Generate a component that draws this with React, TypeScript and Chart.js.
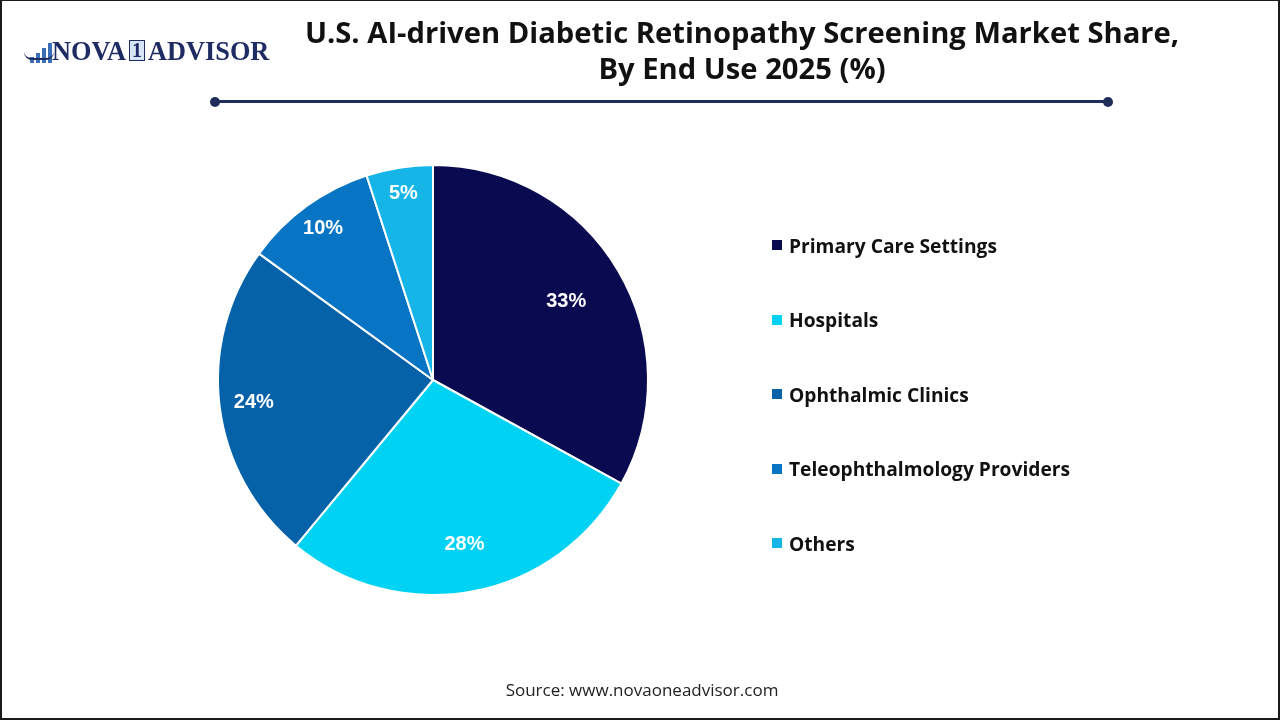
import React, { useEffect, useRef } from "react";
import { Chart, registerables } from "chart.js";

Chart.register(...registerables);

const categories = [
  "Primary Care Settings",
  "Hospitals",
  "Ophthalmic Clinics",
  "Teleophthalmology Providers",
  "Others",
];
const shares = [33, 28, 24, 10, 5];
const sliceColors = ["#0a0a50", "#00d2f3", "#0562a8", "#0874c4", "#16b5e8"];
// radial position of each percentage label, as a fraction of the radius
const labelRadius = [0.72, 0.78, 0.84, 0.87, 0.88];

const titleLines = [
  "U.S. AI-driven Diabetic Retinopathy Screening Market Share,",
  "By End Use 2025 (%)",
];
const sourceText = "Source: www.novaoneadvisor.com";

const percentLabels = {
  id: "percentLabels",
  afterDatasetsDraw(chart: Chart) {
    const ctx = chart.ctx;
    const meta = chart.getDatasetMeta(0);
    ctx.save();
    ctx.fillStyle = "#ffffff";
    ctx.font = "bold 20px 'Liberation Sans', Arial, sans-serif";
    ctx.textAlign = "center";
    ctx.textBaseline = "middle";
    meta.data.forEach((el: any, i: number) => {
      const { x, y, startAngle, endAngle, outerRadius } = el.getProps(
        ["x", "y", "startAngle", "endAngle", "outerRadius"],
        true
      );
      const mid = (startAngle + endAngle) / 2;
      const r = outerRadius * labelRadius[i];
      ctx.fillText(shares[i] + "%", x + Math.cos(mid) * r, y + Math.sin(mid) * r);
    });
    ctx.restore();
  },
};

function PieChart() {
  const ref = useRef<HTMLCanvasElement | null>(null);
  useEffect(() => {
    if (!ref.current) return;
    const chart = new Chart(ref.current, {
      type: "pie",
      data: {
        labels: categories,
        datasets: [
          {
            data: shares,
            backgroundColor: sliceColors,
            borderColor: "#ffffff",
            borderWidth: 2,
          },
        ],
      },
      options: {
        responsive: false,
        animation: false,
        layout: { padding: { left: 215, right: 633, top: 163, bottom: 125 } },
        plugins: {
          legend: { display: false },
          tooltip: { enabled: false },
        },
      },
      plugins: [percentLabels],
    });
    return () => chart.destroy();
  }, []);
  return (
    <canvas
      ref={ref}
      width={1280}
      height={720}
      style={{ position: "absolute", left: 0, top: 0, width: 1280, height: 720 }}
    />
  );
}

function Logo() {
  const bar = (h: number, left: number) => (
    <div
      style={{
        position: "absolute",
        left,
        bottom: 0,
        width: 4,
        height: h,
        background: "#3a6fb8",
      }}
    />
  );
  return (
    <div style={{ position: "absolute", left: 20, top: 37, height: 30, width: 260 }}>
      <div style={{ position: "absolute", left: 2, top: 5, width: 26, height: 20 }}>
        {bar(6, 6)}
        {bar(10, 12)}
        {bar(15, 18)}
        {bar(20, 24)}
        <div
          style={{
            position: "absolute",
            left: 0,
            bottom: 3,
            width: 30,
            height: 6,
            borderBottom: "2px solid #1f2b63",
            borderRadius: "0 0 20px 20px",
          }}
        />
      </div>
      <div
        style={{
          position: "absolute",
          left: 30,
          top: 0,
          fontFamily: "'Liberation Serif', 'Times New Roman', serif",
          fontWeight: 700,
          fontSize: 26.3,
          lineHeight: "28px",
          color: "#1f2b63",
          whiteSpace: "nowrap",
        }}
      >
        NOVA
        <span
          style={{
            display: "inline-block",
            margin: "0 3px",
            padding: "0 2px",
            border: "1.5px solid #1f2b63",
            background: "#d6e6f7",
            lineHeight: "19px",
            fontSize: 20,
            verticalAlign: 3,
          }}
        >
          1
        </span>
        ADVISOR
      </div>
    </div>
  );
}

export default function App() {
  const legendTop = 244;
  const legendStep = 74.5;
  return (
    <div
      style={{
        position: "fixed",
        left: 0,
        top: 0,
        width: 1280,
        height: 720,
        background: "#ffffff",
        boxSizing: "border-box",
        borderStyle: "solid",
        borderColor: "#1a1a1a",
        borderWidth: "1px 2px 2px 2px",
        overflow: "hidden",
      }}
    >
      <PieChart />
      <Logo />
      <div
        style={{
          position: "absolute",
          left: 290,
          width: 900,
          top: 13,
          textAlign: "center",
          fontFamily: "'Open Sans', 'Noto Sans', sans-serif",
          fontWeight: 700,
          fontSize: 29.2,
          lineHeight: "36px",
          color: "#111111",
        }}
      >
        {titleLines.map((t) => (
          <div key={t}>{t}</div>
        ))}
      </div>
      <div
        style={{
          position: "absolute",
          left: 213,
          top: 99,
          width: 893,
          height: 3,
          background: "#1f2d5a",
        }}
      />
      {[208, 1101].map((x) => (
        <div
          key={x}
          style={{
            position: "absolute",
            left: x,
            top: 95.5,
            width: 10,
            height: 10,
            borderRadius: 5,
            background: "#1f2d5a",
          }}
        />
      ))}
      {categories.map((c, i) => (
        <div
          key={c}
          style={{
            position: "absolute",
            left: 770,
            top: legendTop + i * legendStep - 13,
            height: 26,
            display: "flex",
            alignItems: "center",
            whiteSpace: "nowrap",
          }}
        >
          <div
            style={{
              width: 10,
              height: 10,
              background: sliceColors[i],
              marginRight: 7,
            }}
          />
          <span
            style={{
              fontFamily: "'Open Sans', 'Noto Sans', sans-serif",
              fontWeight: 700,
              fontSize: 19.2,
              color: "#111111",
            }}
          >
            {c}
          </span>
        </div>
      ))}
      <div
        style={{
          position: "absolute",
          left: 0,
          width: 1280,
          top: 677,
          textAlign: "center",
          fontFamily: "'Open Sans', 'Noto Sans', sans-serif",
          fontSize: 17,
          color: "#222222",
        }}
      >
        {sourceText}
      </div>
    </div>
  );
}
